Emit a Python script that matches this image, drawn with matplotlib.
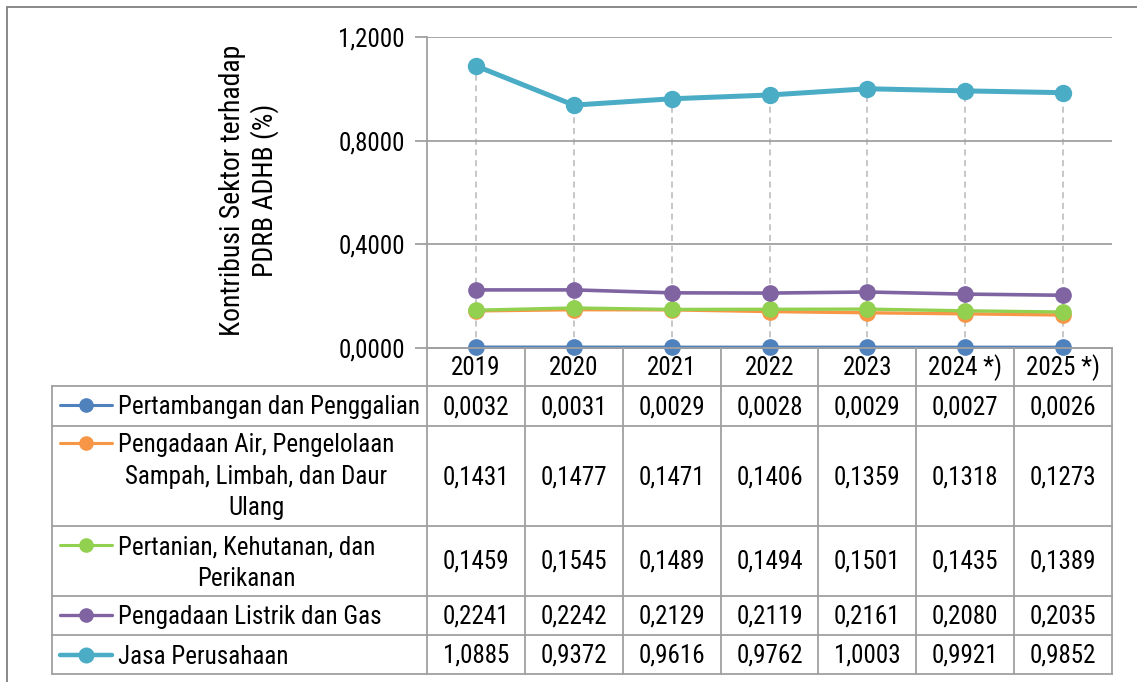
import matplotlib
matplotlib.use("Agg")
import matplotlib.pyplot as plt
from matplotlib.lines import Line2D
from matplotlib.patches import Rectangle
from matplotlib.ticker import FuncFormatter, FixedLocator
import matplotlib.transforms as mtransforms
from matplotlib import font_manager

names = {f.name for f in font_manager.fontManager.ttflist}
fam = [n for n in ["Liberation Sans Narrow", "Arial Narrow", "Roboto Condensed", "Liberation Sans"] if n in names]
plt.rcParams["font.family"] = fam + ["DejaVu Sans"]

years = ["2019", "2020", "2021", "2022", "2023", "2024 *)", "2025 *)"]
series_names = [
    "Pertambangan dan Penggalian",
    "Pengadaan Air, Pengelolaan\nSampah, Limbah, dan Daur\nUlang",
    "Pertanian, Kehutanan, dan\nPerikanan",
    "Pengadaan Listrik dan Gas",
    "Jasa Perusahaan",
]
pertambangan = [0.0032, 0.0031, 0.0029, 0.0028, 0.0029, 0.0027, 0.0026]
pengadaan_air = [0.1431, 0.1477, 0.1471, 0.1406, 0.1359, 0.1318, 0.1273]
pertanian = [0.1459, 0.1545, 0.1489, 0.1494, 0.1501, 0.1435, 0.1389]
listrik_gas = [0.2241, 0.2242, 0.2129, 0.2119, 0.2161, 0.2080, 0.2035]
jasa = [1.0885, 0.9372, 0.9616, 0.9762, 1.0003, 0.9921, 0.9852]
all_series = [pertambangan, pengadaan_air, pertanian, listrik_gas, jasa]
colors = ["#4F81BD", "#F79646", "#92D050", "#8064A2", "#4BACC6"]
y_ticks = [0.0, 0.4, 0.8, 1.2]
y_label = "Kontribusi Sektor terhadap\nPDRB ADHB (%)"

W, H = 1137, 682
fig = plt.figure(figsize=(W / 100, H / 100), dpi=100)
fx = lambda x: x / W
fy = lambda y: 1 - y / H

GRAY = "#A0A0A0"
FS = 18

left, right, top, bottom = 427, 1112, 37, 348
ax = fig.add_axes([fx(left), fy(bottom), fx(right) - fx(left), fy(top) - fy(bottom)])
n = len(years)
xs = list(range(n))
ax.set_xlim(-0.5, n - 0.5)
ax.set_ylim(0, 1.2)

# drop lines
for i in xs:
    top_v = max(s[i] for s in all_series)
    ax.plot([i, i], [0, top_v], color="#B8B8B8", lw=1.1, ls=(0, (4, 3)), zorder=1)

lws = [2.4, 2.4, 2.4, 2.6, 3.6]
mss = [11, 11, 11, 11, 11.5]
for k in range(len(all_series)):
    ax.plot(xs, all_series[k], color=colors[k], lw=lws[k], marker="o", ms=mss[k],
            zorder=3 + k, clip_on=False, solid_capstyle="round")

ax.yaxis.set_major_locator(FixedLocator(y_ticks))
ax.yaxis.set_major_formatter(FuncFormatter(lambda v, p: f"{v:.4f}".replace(".", ",")))
ax.grid(axis="y", color=GRAY, lw=1.3, zorder=0)
ax.tick_params(axis="y", length=9, width=1.3, color=GRAY, labelsize=FS, pad=7)
ax.set_xticks([])
for s in ["top", "right"]:
    ax.spines[s].set_visible(False)
ax.spines["left"].set_color(GRAY)
ax.spines["left"].set_linewidth(1.3)
ax.spines["bottom"].set_color(GRAY)
ax.spines["bottom"].set_linewidth(1.3)
ax.set_facecolor("none")

fig.text(fx(249), fy(190), y_label, rotation=90, ha="center", va="center",
         fontsize=20, multialignment="center", linespacing=1.2)

# table
trans = mtransforms.blended_transform_factory(ax.transData, fig.transFigure)
tab_left = 52
rows = [348, 386, 426, 526, 596, 635, 674]
lw_t = 1.3
for j, yy in enumerate(rows):
    x0 = left if j == 0 else tab_left
    fig.add_artist(Line2D([fx(x0), fx(right)], [fy(yy), fy(yy)], color=GRAY, lw=lw_t))
for i in range(n + 1):
    xd = i - 0.5
    fig.add_artist(Line2D([xd, xd], [fy(rows[0]), fy(rows[-1])], color=GRAY, lw=lw_t,
                          transform=trans))
fig.add_artist(Line2D([fx(tab_left), fx(tab_left)], [fy(rows[1]), fy(rows[-1])], color=GRAY, lw=lw_t))

for i in xs:
    fig.text(i, fy((rows[0] + rows[1]) / 2 + 1), years[i], ha="center", va="center",
             fontsize=FS, transform=trans)

first_line_y = [405, 443, 545, 615, 655]
leg_lw = [2.2, 2.2, 2.2, 2.4, 3.2]
leg_ms = [9.5, 9.5, 9.5, 9.5, 10.5]
for k in range(len(all_series)):
    yc = (rows[k + 1] + rows[k + 2]) / 2
    for i in xs:
        fig.text(i, fy(yc + 1), f"{all_series[k][i]:.4f}".replace(".", ","), ha="center",
                 va="center", fontsize=FS, transform=trans)
    ly = first_line_y[k]
    fig.add_artist(Line2D([fx(60), fx(112)], [fy(ly), fy(ly)], color=colors[k], lw=leg_lw[k],
                          solid_capstyle="round"))
    fig.add_artist(Line2D([fx(86)], [fy(ly)], color=colors[k], marker="o", ms=leg_ms[k], lw=0))
    fig.text(fx(118), fy(ly - 10), series_names[k], ha="left", va="top", fontsize=FS,
             multialignment="center", linespacing=1.4)

fig.add_artist(Rectangle((fx(7), fy(H + 5)), fx(W + 10) - fx(7), fy(7) - fy(H + 5),
                         fill=False, edgecolor="#808080", lw=1.3))

fig.savefig("out.png", dpi=100)
